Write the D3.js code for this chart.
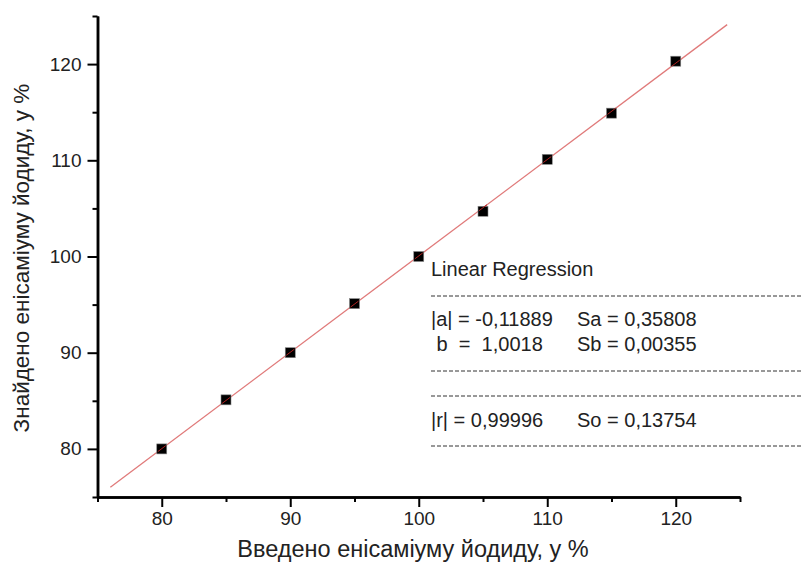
<!DOCTYPE html>
<html>
<head>
<meta charset="utf-8">
<script src="https://cdn.jsdelivr.net/npm/d3@7"></script>
<style>
  body { margin: 0; background: #fff; }
  text { font-family: "Liberation Sans", Arial, sans-serif; fill: #222; }
</style>
</head>
<body>
<div id="chart"></div>
<script>
// measured data: introduced vs found (%)
const introduced = [80, 85, 90, 95, 100, 105, 110, 115, 120];
const found = [80.0, 85.1, 90.0, 95.1, 100.0, 104.7, 110.1, 114.9, 120.3];

// regression result as printed on the chart
const fitA = -0.11889;
const fitB = 1.0018;
const fitRange = [76, 124];

const majorTicks = [80, 90, 100, 110, 120];
const minorTicks = [75, 85, 95, 105, 115, 125];

const statRows = [
  ["|a| = -0,11889", "Sa = 0,35808"],
  [" b  =  1,0018", "Sb = 0,00355"],
  ["|r| = 0,99996", "So = 0,13754"]
];

const w = 803, h = 563;
const margin = {left: 97.5, right: 63, top: 16, bottom: 66};

const x = d3.scaleLinear().domain([75, 125]).range([margin.left, w - margin.right]);
const y = d3.scaleLinear().domain([75, 125]).range([h - margin.bottom, margin.top]);

const svg = d3.select("#chart").append("svg")
    .attr("width", w)
    .attr("height", h);

// fit line
svg.append("line")
    .attr("x1", x(fitRange[0]))
    .attr("y1", y(fitA + fitB * fitRange[0]))
    .attr("x2", x(fitRange[1]))
    .attr("y2", y(fitA + fitB * fitRange[1]))
    .attr("stroke", "#e07a7a")
    .attr("stroke-width", 1.3);

// points
const pts = introduced.map((v, i) => [v, found[i]]);
svg.append("g").selectAll("rect")
    .data(pts)
    .join("rect")
    .attr("x", d => x(d[0]) - 5)
    .attr("y", d => y(d[1]) - 5)
    .attr("width", 10)
    .attr("height", 10)
    .attr("fill", "#000")
    .attr("stroke", "#888")
    .attr("stroke-width", 0.6);

// small line segment across marker
svg.append("g").selectAll("line")
    .data(pts)
    .join("line")
    .attr("x1", d => x(d[0]) - 4)
    .attr("y1", d => y(fitA + fitB * (d[0] - 4 / 12.84)))
    .attr("x2", d => x(d[0]) + 4)
    .attr("y2", d => y(fitA + fitB * (d[0] + 4 / 12.84)))
    .attr("stroke", "#b02020")
    .attr("stroke-width", 1);

// axes
function styleAxis(g) {
    g.select(".domain").attr("stroke", "#000").attr("stroke-width", 2.5);
    g.selectAll(".tick line").attr("stroke", "#000").attr("stroke-width", 2);
    g.selectAll(".tick text")
        .style("font-family", "'Liberation Sans', Arial, sans-serif")
        .attr("font-size", 19)
        .attr("fill", "#222");
}

const gx = svg.append("g")
    .attr("transform", `translate(0,${y(75)})`)
    .call(d3.axisBottom(x).tickValues(majorTicks).tickSize(10).tickPadding(5).tickSizeOuter(0));
styleAxis(gx);
const gxMinor = svg.append("g")
    .attr("transform", `translate(0,${y(75)})`)
    .call(d3.axisBottom(x).tickValues(minorTicks).tickSize(5).tickFormat("").tickSizeOuter(0));
styleAxis(gxMinor);

const gy = svg.append("g")
    .attr("transform", `translate(${x(75)},0)`)
    .call(d3.axisLeft(y).tickValues(majorTicks).tickSize(10).tickPadding(6).tickSizeOuter(0));
styleAxis(gy);
const gyMinor = svg.append("g")
    .attr("transform", `translate(${x(75)},0)`)
    .call(d3.axisLeft(y).tickValues(minorTicks).tickSize(5).tickFormat("").tickSizeOuter(0));
styleAxis(gyMinor);

// axis titles
svg.append("text")
    .attr("x", 413)
    .attr("y", 557)
    .attr("text-anchor", "middle")
    .attr("font-size", 23.5)
    .text("Введено енісаміуму йодиду, у %");

svg.append("text")
    .attr("transform", "translate(29,258) rotate(-90)")
    .attr("text-anchor", "middle")
    .attr("font-size", 22.5)
    .text("Знайдено енісаміуму йодиду, у %");

// regression info box
const lx = 431;
const info = svg.append("g").attr("font-size", 20);
info.append("text").attr("x", lx).attr("y", 276).text("Linear Regression");

[296, 371, 396, 446].forEach(yy => {
    info.append("line")
        .attr("x1", lx).attr("x2", w)
        .attr("y1", yy).attr("y2", yy)
        .attr("stroke", "#333")
        .attr("stroke-width", 1)
        .attr("stroke-dasharray", "4,2");
});

const rowY = [326, 351, 427];
statRows.forEach((r, i) => {
    info.append("text").attr("x", lx).attr("y", rowY[i]).attr("xml:space", "preserve").style("white-space", "pre").text(r[0]);
    info.append("text").attr("x", 577).attr("y", rowY[i]).text(r[1]);
});
</script>
</body>
</html>
